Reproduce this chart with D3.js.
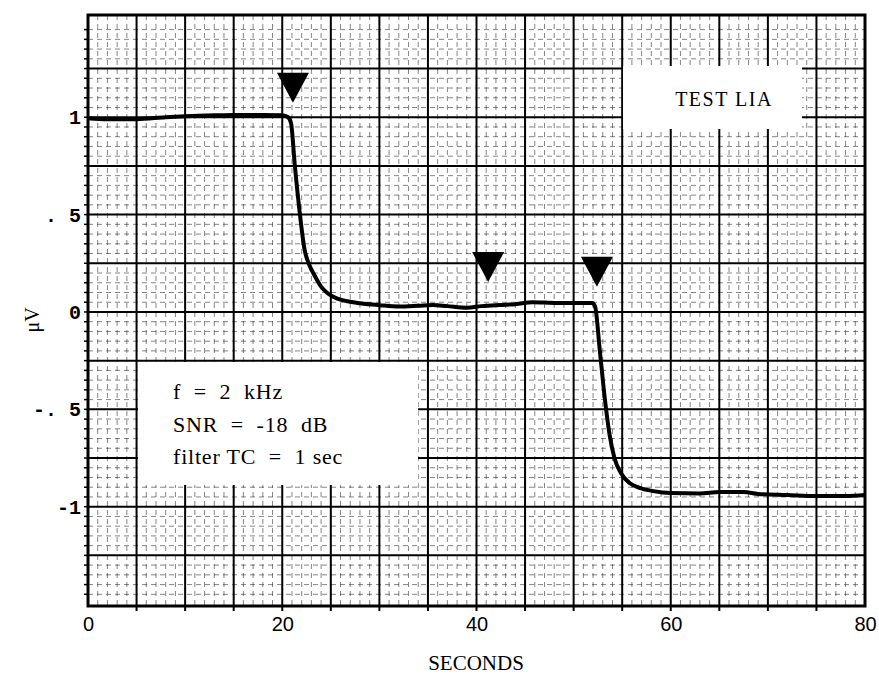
<!DOCTYPE html>
<html>
<head>
<meta charset="utf-8">
<script src="https://cdn.jsdelivr.net/npm/d3@7"></script>
<style>
  body { margin: 0; background: #fff; }
  svg { display: block; }
</style>
</head>
<body>
<svg id="chart" width="879" height="675"></svg>
<script>
// trace: seconds / microvolts
var times = [0, 2, 5, 8, 10, 13, 15, 18, 20, 20.6, 20.9, 21.3, 21.8, 22.3, 22.8, 23.3, 24.0, 24.7, 25.6, 26.7, 28, 30, 32, 34, 35.5, 37, 39, 40.5, 42.4, 44, 45.8, 47, 48.6, 50.5, 51.9, 52.2, 52.7, 53.2, 53.7, 54.2, 54.9, 55.8, 56.9, 58.2, 60, 63, 65, 67.5, 69, 72, 75, 78, 80];
var microvolts = [0.995, 0.99, 0.99, 1.0, 1.005, 1.01, 1.012, 1.012, 1.01, 1.0, 0.97, 0.75, 0.51, 0.32, 0.24, 0.19, 0.13, 0.095, 0.07, 0.055, 0.045, 0.035, 0.028, 0.032, 0.036, 0.03, 0.022, 0.03, 0.036, 0.04, 0.05, 0.048, 0.046, 0.046, 0.046, 0.03, -0.2, -0.44, -0.63, -0.75, -0.83, -0.88, -0.905, -0.92, -0.93, -0.932, -0.925, -0.925, -0.935, -0.94, -0.945, -0.945, -0.94];

// event markers (tip of each triangle)
var markerTimes = [21.1, 41.2, 52.4];
var markerValues = [1.075, 0.154, 0.129];

var xTicks = [0, 20, 40, 60, 80];
var yTicks = [1, 0.5, 0, -0.5, -1];
var yTickLabels = ["1", ". 5", "0", "-. 5", "-1"];

var infoLines = ["f  =  2  kHz", "SNR  =  -18  dB", "filter TC  =  1 sec"];
var titleText = "TEST LIA";

var svg = d3.select("#chart");

var x = d3.scaleLinear().domain([0, 80]).range([88, 865]);
var y = d3.scaleLinear().domain([-1.51, 1.525]).range([606, 15]);

var grid = svg.append("g");

// minor grid
var minorX = d3.range(1, 80).filter(function(d) { return d % 5 !== 0; });
var minorY = d3.range(-30, 31).map(function(d) { return d * 0.05; })
    .filter(function(d) { return Math.abs(Math.round(d * 20) % 5) !== 0 && d > -1.49 && d < 1.5; });

grid.selectAll(".minor-x").data(minorX).enter().append("line")
    .attr("x1", function(d) { return x(d); })
    .attr("x2", function(d) { return x(d); })
    .attr("y1", y(1.525)).attr("y2", y(-1.51))
    .attr("stroke", "#222").attr("stroke-width", 1)
    .attr("stroke-dasharray", "5,4").attr("opacity", 0.55);

grid.selectAll(".minor-y").data(minorY).enter().append("line")
    .attr("y1", function(d) { return y(d); })
    .attr("y2", function(d) { return y(d); })
    .attr("x1", x(0)).attr("x2", x(80))
    .attr("stroke", "#222").attr("stroke-width", 1)
    .attr("stroke-dasharray", "5,4").attr("opacity", 0.55);

// major grid
var majorX = d3.range(5, 80, 5);
var majorY = d3.range(-5, 6).map(function(d) { return d * 0.25; });

grid.selectAll(".major-x").data(majorX).enter().append("line")
    .attr("x1", function(d) { return x(d); })
    .attr("x2", function(d) { return x(d); })
    .attr("y1", y(1.525)).attr("y2", y(-1.51) + 5)
    .attr("stroke", "#000").attr("stroke-width", 2);

grid.selectAll(".major-y").data(majorY).enter().append("line")
    .attr("y1", function(d) { return y(d); })
    .attr("y2", function(d) { return y(d); })
    .attr("x1", x(0)).attr("x2", x(80))
    .attr("stroke", "#000").attr("stroke-width", 2);

// small ticks outside the left edge
grid.selectAll(".ltick").data(d3.range(-30, 31).map(function(d) { return d * 0.05; }).filter(function(d) { return d > -1.5 && d < 1.5; }))
    .enter().append("line")
    .attr("x1", x(0) - 4).attr("x2", x(0))
    .attr("y1", function(d) { return y(d); })
    .attr("y2", function(d) { return y(d); })
    .attr("stroke", "#000").attr("stroke-width", 1.5);

// border
svg.append("rect")
    .attr("x", x(0)).attr("y", y(1.525))
    .attr("width", x(80) - x(0)).attr("height", y(-1.51) - y(1.525))
    .attr("fill", "none").attr("stroke", "#000").attr("stroke-width", 3);

// white label boxes
svg.append("rect").attr("x", 623).attr("y", 66).attr("width", 179).attr("height", 63).attr("fill", "#fff");
svg.append("rect").attr("x", 138).attr("y", 362).attr("width", 280).attr("height", 123).attr("fill", "#fff");

svg.append("text")
    .attr("x", 724).attr("y", 106)
    .attr("text-anchor", "middle")
    .style("font-family", "'Liberation Serif', 'DejaVu Serif', serif")
    .style("font-size", "20px")
    .style("letter-spacing", "1.5px")
    .text(titleText);

svg.selectAll(".info").data(infoLines).enter().append("text")
    .attr("x", 173)
    .attr("y", function(d, i) { return 399 + i * 32.5; })
    .style("font-family", "'Liberation Serif', 'DejaVu Serif', serif")
    .style("font-size", "22px")
    .style("letter-spacing", "0.8px")
    .style("white-space", "pre")
    .attr("xml:space", "preserve")
    .text(function(d) { return d; });

// trace
var trace = times.map(function(t, i) { return [t, microvolts[i]]; });
var line = d3.line()
    .x(function(d) { return x(d[0]); })
    .y(function(d) { return y(d[1]); })
    .curve(d3.curveMonotoneX);

svg.append("path")
    .datum(trace)
    .attr("d", line)
    .attr("fill", "none")
    .attr("stroke", "#000")
    .attr("stroke-width", 4)
    .attr("stroke-linejoin", "round");

// triangle markers
svg.selectAll(".marker").data(markerTimes).enter().append("path")
    .attr("d", function(d, i) {
        var tx = x(d), ty = y(markerValues[i]);
        return "M" + (tx - 16) + "," + (ty - 30) + "L" + (tx + 16) + "," + (ty - 30) + "L" + tx + "," + ty + "Z";
    })
    .attr("fill", "#000");

// axes
var xAxis = svg.append("g")
    .attr("transform", "translate(0," + y(-1.51) + ")")
    .call(d3.axisBottom(x).tickValues(xTicks).tickSize(0).tickPadding(11).tickFormat(d3.format("d")));
xAxis.select(".domain").remove();
xAxis.selectAll("text")
    .style("font-family", "'Liberation Sans', 'DejaVu Sans', sans-serif")
    .style("font-size", "20px")
    .attr("fill", "#000");

var yAxis = svg.append("g")
    .attr("transform", "translate(" + x(0) + ",0)")
    .call(d3.axisLeft(y).tickValues(yTicks).tickSize(0).tickPadding(7)
        .tickFormat(function(d, i) { return yTickLabels[i]; }));
yAxis.select(".domain").remove();
yAxis.selectAll("text")
    .style("font-family", "'Liberation Mono', 'DejaVu Sans Mono', monospace")
    .style("font-size", "20px")
    .style("font-weight", "bold")
    .style("white-space", "pre")
    .attr("fill", "#000");

svg.append("text")
    .attr("x", 476).attr("y", 670)
    .attr("text-anchor", "middle")
    .style("font-family", "'Liberation Serif', 'DejaVu Serif', serif")
    .style("font-size", "21px")
    .text("SECONDS");

svg.append("text")
    .attr("transform", "translate(39,320) rotate(-90)")
    .attr("text-anchor", "middle")
    .style("font-family", "'Liberation Serif', 'DejaVu Serif', serif")
    .style("font-size", "20px")
    .text("μV");
</script>
</body>
</html>
